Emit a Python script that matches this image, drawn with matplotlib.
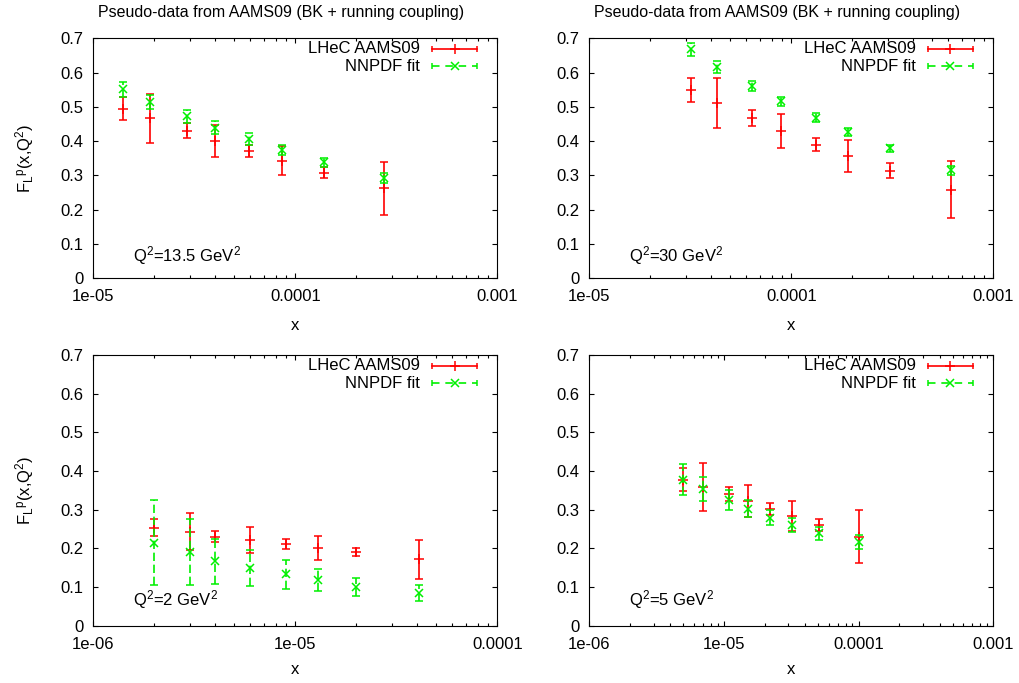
import matplotlib
matplotlib.use('Agg')
import matplotlib.pyplot as plt
from matplotlib.ticker import FixedLocator, LogLocator, NullFormatter

plt.rcParams['font.family'] = ['Liberation Sans', 'DejaVu Sans']
plt.rcParams['mathtext.fontset'] = 'custom'
plt.rcParams['mathtext.rm'] = 'Liberation Sans'
plt.rcParams['mathtext.it'] = 'Liberation Sans:italic'

# ---------------- data ----------------
# Q^2 = 13.5 GeV^2
x_q13 = [1.40e-5, 1.90e-5, 2.90e-5, 4.0e-5, 5.9e-5, 8.6e-5, 1.38e-4, 2.75e-4]
lhec_q13 = [0.495, 0.467, 0.430, 0.401, 0.371, 0.343, 0.308, 0.263]
lhec_err_q13 = [0.033, 0.071, 0.022, 0.046, 0.018, 0.042, 0.016, 0.077]
nnpdf_q13 = [0.551, 0.515, 0.472, 0.439, 0.406, 0.375, 0.338, 0.292]
nnpdf_err_q13 = [0.023, 0.021, 0.019, 0.019, 0.017, 0.014, 0.013, 0.014]

# Q^2 = 30 GeV^2
x_q30 = [3.18e-5, 4.28e-5, 6.38e-5, 8.9e-5, 1.33e-4, 1.91e-4, 3.08e-4, 6.18e-4]
lhec_q30 = [0.550, 0.512, 0.467, 0.430, 0.390, 0.356, 0.314, 0.258]
lhec_err_q30 = [0.035, 0.073, 0.023, 0.049, 0.020, 0.046, 0.021, 0.083]
nnpdf_q30 = [0.668, 0.617, 0.561, 0.517, 0.469, 0.427, 0.379, 0.315]
nnpdf_err_q30 = [0.019, 0.018, 0.015, 0.013, 0.012, 0.012, 0.010, 0.014]

# Q^2 = 2 GeV^2
x_q2 = [2.0e-6, 3.0e-6, 4.0e-6, 6.0e-6, 9.0e-6, 1.3e-5, 2.0e-5, 4.08e-5]
lhec_q2 = [0.253, 0.243, 0.230, 0.222, 0.211, 0.202, 0.190, 0.172]
lhec_err_q2 = [0.022, 0.048, 0.014, 0.033, 0.012, 0.031, 0.011, 0.050]
nnpdf_q2 = [0.215, 0.191, 0.167, 0.150, 0.133, 0.118, 0.101, 0.084]
nnpdf_err_q2 = [0.111, 0.085, 0.058, 0.047, 0.037, 0.028, 0.023, 0.020]

# Q^2 = 5 GeV^2
x_q5 = [5.0e-6, 7.0e-6, 1.09e-5, 1.5e-5, 2.2e-5, 3.2e-5, 5.07e-5, 1.01e-4]
lhec_q5 = [0.378, 0.359, 0.340, 0.322, 0.301, 0.284, 0.261, 0.230]
lhec_err_q5 = [0.029, 0.062, 0.018, 0.042, 0.016, 0.038, 0.015, 0.068]
nnpdf_q5 = [0.378, 0.353, 0.325, 0.303, 0.279, 0.260, 0.239, 0.216]
nnpdf_err_q5 = [0.039, 0.031, 0.025, 0.022, 0.019, 0.018, 0.017, 0.018]

q2_labels = ['Q$^\\mathregular{2}$=13.5 GeV$^\\mathregular{2}$',
             'Q$^\\mathregular{2}$=30 GeV$^\\mathregular{2}$',
             'Q$^\\mathregular{2}$=2 GeV$^\\mathregular{2}$',
             'Q$^\\mathregular{2}$=5 GeV$^\\mathregular{2}$']
series_labels = ['LHeC AAMS09', 'NNPDF fit']
title_text = 'Pseudo-data from AAMS09 (BK + running coupling)'
ylabel_text = 'F$_\\mathregular{L}$$^\\mathregular{p}$(x,Q$^\\mathregular{2}$)'
yticks = [0, 0.1, 0.2, 0.3, 0.4, 0.5, 0.6, 0.7]
ytick_labels = ['0', '0.1', '0.2', '0.3', '0.4', '0.5', '0.6', '0.7']
xticks_top = [1e-5, 1e-4, 1e-3]
xtick_labels_top = ['1e-05', '0.0001', '0.001']
xticks_bl = [1e-6, 1e-5, 1e-4]
xtick_labels_bl = ['1e-06', '1e-05', '0.0001']
xticks_br = [1e-6, 1e-5, 1e-4, 1e-3]
xtick_labels_br = ['1e-06', '1e-05', '0.0001', '0.001']

RED = '#ff0000'
GREEN = '#00f000'

W, H = 1020, 683
fig = plt.figure(figsize=(W / 100, H / 100), dpi=100)

# pixel boxes: left, top, right, bottom
panels = [
    dict(box=(93.3, 38.3, 497.3, 278.3), x=x_q13, r=lhec_q13, re=lhec_err_q13,
         g=nnpdf_q13, ge=nnpdf_err_q13, lab=q2_labels[0], xl=(1e-5, 1e-3),
         xt=xticks_top, xtl=xtick_labels_top, ylab=True, title=True, xlab_y=325),
    dict(box=(589.3, 38.3, 993.3, 278.3), x=x_q30, r=lhec_q30, re=lhec_err_q30,
         g=nnpdf_q30, ge=nnpdf_err_q30, lab=q2_labels[1], xl=(1e-5, 1e-3),
         xt=xticks_top, xtl=xtick_labels_top, ylab=False, title=True, xlab_y=325),
    dict(box=(93.3, 355.0, 497.3, 625.7), x=x_q2, r=lhec_q2, re=lhec_err_q2,
         g=nnpdf_q2, ge=nnpdf_err_q2, lab=q2_labels[2], xl=(1e-6, 1e-4),
         xt=xticks_bl, xtl=xtick_labels_bl, ylab=True, title=False, xlab_y=669),
    dict(box=(589.3, 355.0, 993.3, 625.7), x=x_q5, r=lhec_q5, re=lhec_err_q5,
         g=nnpdf_q5, ge=nnpdf_err_q5, lab=q2_labels[3], xl=(1e-6, 1e-3),
         xt=xticks_br, xtl=xtick_labels_br, ylab=False, title=False, xlab_y=669),
]

FS = 12
for p in panels:
    l, t, r, b = p['box']
    ax = fig.add_axes([l / W, 1 - b / H, (r - l) / W, (b - t) / H])
    aw, ah = r - l, b - t
    ax.set_xscale('log')
    ax.set_xlim(*p['xl'])
    ax.set_ylim(0, 0.7)

    ax.errorbar(p['x'], p['r'], yerr=p['re'], fmt='+', color=RED, ms=6.5, mew=1.1,
                elinewidth=1.2, capsize=2.8, capthick=1.1, zorder=3)
    eb = ax.errorbar(p['x'], p['g'], yerr=p['ge'], fmt='x', color=GREEN, ms=5.5, mew=1.1,
                     elinewidth=1.2, capsize=2.8, capthick=1.1, zorder=4)
    eb[2][0].set_linestyle((0, (5, 2.2)))

    ax.xaxis.set_major_locator(FixedLocator(p['xt']))
    ax.set_xticklabels(p['xtl'])
    ax.xaxis.set_minor_locator(LogLocator(base=10, subs=range(2, 10)))
    ax.xaxis.set_minor_formatter(NullFormatter())
    ax.set_yticks(yticks)
    ax.set_yticklabels(ytick_labels)
    ax.tick_params(which='both', direction='in', top=True, right=True,
                   labelsize=FS, width=0.8, colors='black')
    ax.tick_params(which='major', length=3.8)
    ax.tick_params(which='minor', length=2.2)
    ax.tick_params(axis='x', which='major', pad=8)
    ax.tick_params(axis='y', which='major', pad=7)
    for s in ax.spines.values():
        s.set_linewidth(0.8)

    # legend (gnuplot style)
    for row, (lab, col, mk, ls) in enumerate(
            [(series_labels[0], RED, '+', '-'), (series_labels[1], GREEN, 'x', (0, (4.5, 3.5)))]):
        yy = 1 - (10.5 + 17.5 * row) / ah
        ax.text(1 - 77 / aw, yy, lab, transform=ax.transAxes, ha='right', va='center',
                fontsize=FS)
        x0, x1 = 1 - 65.6 / aw, 1 - 20 / aw
        ax.plot([x0, x1], [yy, yy], transform=ax.transAxes, color=col, ls=ls, lw=1.2,
                clip_on=False)
        ax.plot([x0, x1], [yy, yy], transform=ax.transAxes, color=col, ls='none',
                marker='|', ms=4.2, mew=1.1, clip_on=False)
        ax.plot([(x0 + x1) / 2], [yy], transform=ax.transAxes, color=col, ls='none',
                marker=mk, ms=6.5 if mk == '+' else 5.5, mew=1.1, clip_on=False)

    ax.text(40 / aw, 0.095, p['lab'], transform=ax.transAxes, ha='left', va='center',
            fontsize=FS)

    fig.text((l + r) / 2 / W, 1 - p['xlab_y'] / H, 'x', ha='center', va='center', fontsize=FS)
    if p['ylab']:
        fig.text(25 / W, 1 - (t + b) / 2 / H, ylabel_text, rotation=90, ha='center',
                 va='center', fontsize=FS)
    if p['title']:
        fig.text(((l + r) / 2 - 14) / W, 1 - 12 / H, title_text, ha='center', va='center',
                 fontsize=11.5)

fig.savefig('out.png', dpi=100)
